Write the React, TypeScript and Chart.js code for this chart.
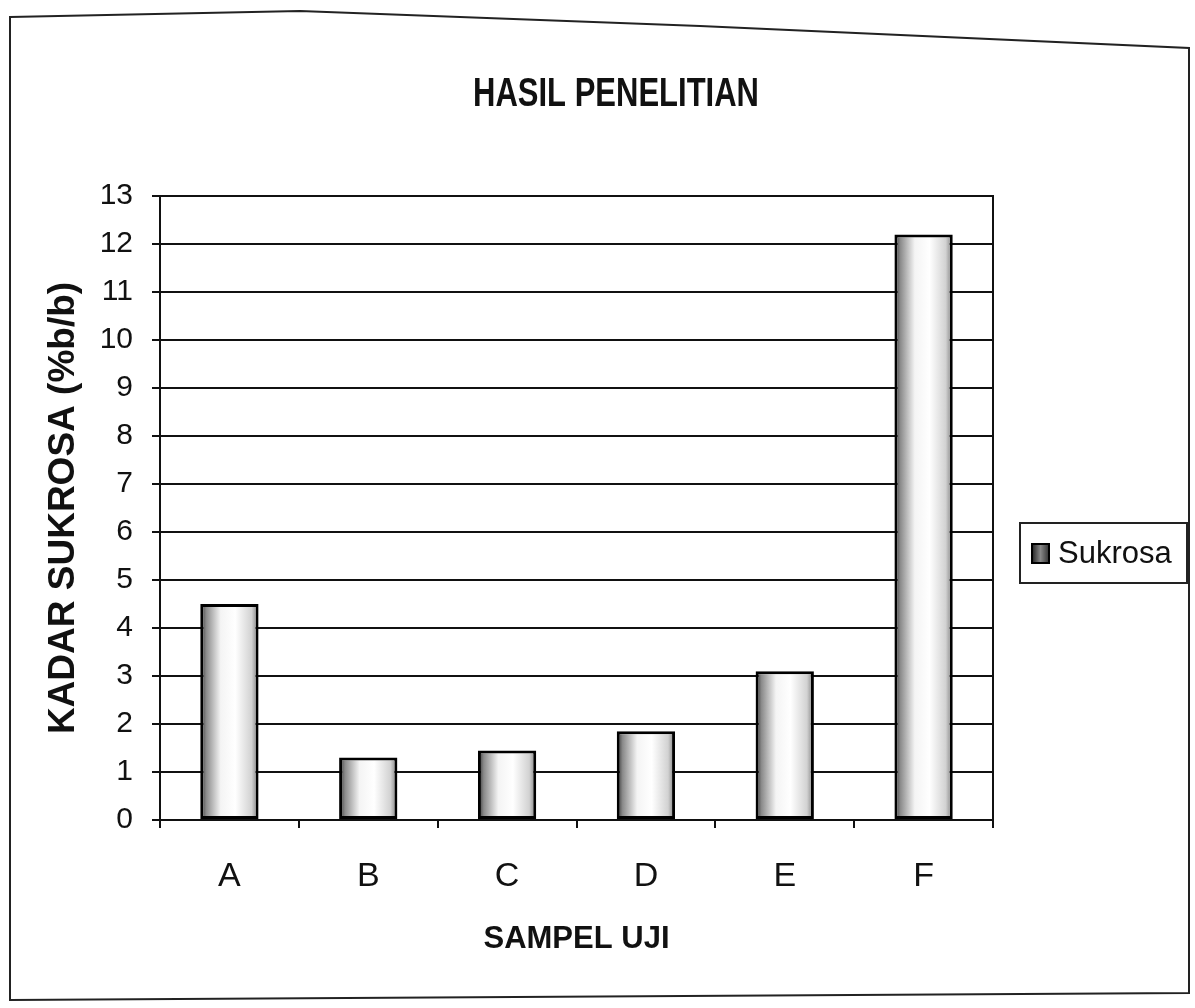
import React, { useEffect, useRef } from "react";
import { Chart, registerables } from "chart.js";

Chart.register(...registerables);

const chartTitle = "HASIL PENELITIAN";
const xAxisTitle = "SAMPEL UJI";
const yAxisTitle = "KADAR SUKROSA (%b/b)";
const seriesName = "Sukrosa";
const categories = ["A", "B", "C", "D", "E", "F"];
const sukrosaValues = [4.5, 1.3, 1.45, 1.85, 3.1, 12.2];
const yMin = 0;
const yMax = 13;
const yStep = 1;

const BAR_PCT = 0.42;
const SANS = "'Liberation Sans', Arial, sans-serif";

function barGradient(ctx: any) {
  const chart = ctx.chart;
  const area = chart.chartArea;
  const xs = chart.scales && chart.scales.x;
  if (!area || !xs) return "#bbbbbb";
  const cx = xs.getPixelForValue(ctx.dataIndex);
  const w = ((area.right - area.left) / categories.length) * BAR_PCT;
  const g = chart.ctx.createLinearGradient(cx - w / 2, 0, cx + w / 2, 0);
  g.addColorStop(0, "#2e2e2e");
  g.addColorStop(0.1, "#8a8a8a");
  g.addColorStop(0.35, "#f4f4f4");
  g.addColorStop(0.6, "#ffffff");
  g.addColorStop(0.88, "#d2d2d2");
  g.addColorStop(1, "#7a7a7a");
  return g;
}

const framePlugin = {
  id: "framePlugin",
  beforeDraw(chart: any) {
    const c = chart.ctx;
    c.save();
    c.fillStyle = "#ffffff";
    c.fillRect(0, 0, chart.width, chart.height);
    c.strokeStyle = "#222";
    c.lineWidth = 2;
    c.beginPath();
    c.moveTo(10, 17);
    c.lineTo(300, 11);
    c.lineTo(700, 26);
    c.lineTo(1189, 48);
    c.lineTo(1189, 993);
    c.lineTo(10, 1000);
    c.closePath();
    c.stroke();
    c.restore();
  },
  beforeDatasetsDraw(chart: any) {
    const { left, right, top, bottom } = chart.chartArea;
    const c = chart.ctx;
    c.save();
    c.strokeStyle = "#111";
    c.lineWidth = 2;
    c.strokeRect(left, top, right - left, bottom - top);
    c.restore();
  },
  afterDraw(chart: any) {
    const c = chart.ctx;
    // chart title (slightly tall, condensed look like the scan)
    c.save();
    c.translate(616, 95);
    c.scale(1, 1.3);
    c.fillStyle = "#111";
    c.font = `bold 31px ${SANS}`;
    c.textAlign = "center";
    c.textBaseline = "middle";
    c.fillText(chartTitle, 0, 0);
    c.restore();

    // legend
    const bx = 1020, by = 523, bw = 167, bh = 60;
    c.save();
    c.strokeStyle = "#222";
    c.lineWidth = 2;
    c.strokeRect(bx, by, bw, bh);
    const ix = 1032, iy = 544, iw = 17, ih = 19;
    const g = c.createLinearGradient(ix, 0, ix + iw, 0);
    g.addColorStop(0, "#222");
    g.addColorStop(0.5, "#888");
    g.addColorStop(1, "#333");
    c.fillStyle = g;
    c.fillRect(ix, iy, iw, ih);
    c.strokeStyle = "#000";
    c.lineWidth = 2;
    c.strokeRect(ix, iy, iw, ih);
    c.fillStyle = "#111";
    c.font = `31px ${SANS}`;
    c.textBaseline = "middle";
    c.textAlign = "left";
    c.fillText(seriesName, 1058, by + bh / 2 + 1);
    c.restore();
  },
};

export default function App() {
  const ref = useRef<HTMLCanvasElement | null>(null);

  useEffect(() => {
    if (!ref.current) return;
    const chart = new Chart(ref.current, {
      type: "bar",
      data: {
        labels: categories,
        datasets: [
          {
            label: seriesName,
            data: sukrosaValues,
            backgroundColor: barGradient as any,
            borderColor: "#000",
            borderWidth: 3,
            borderSkipped: false,
            categoryPercentage: 1,
            barPercentage: BAR_PCT,
          },
        ],
      },
      options: {
        animation: false,
        responsive: false,
        maintainAspectRatio: false,
        layout: { padding: { left: 20, right: 202, top: 196, bottom: 20 } },
        plugins: {
          legend: { display: false },
          tooltip: { enabled: false },
          title: { display: false },
        },
        scales: {
          x: {
            afterFit: (s: any) => {
              s.height = 168;
            },
            grid: {
              display: true,
              offset: true,
              drawOnChartArea: false,
              drawTicks: true,
              tickLength: 8,
              color: "#111",
              lineWidth: 2,
            },
            border: { display: true, color: "#111", width: 2 },
            ticks: {
              color: "#111",
              padding: 28,
              font: { family: SANS, size: 34 },
            },
            title: {
              display: true,
              text: xAxisTitle,
              color: "#111",
              font: { family: SANS, size: 31, weight: "bold" },
              padding: { top: 0, bottom: 30 },
            },
          },
          y: {
            min: yMin,
            max: yMax,
            afterFit: (s: any) => {
              s.width = 140;
            },
            grid: {
              display: true,
              drawOnChartArea: true,
              drawTicks: true,
              tickLength: 8,
              color: "#111",
              lineWidth: 2,
            },
            border: { display: true, color: "#111", width: 2 },
            ticks: {
              stepSize: yStep,
              color: "#111",
              padding: 19,
              font: { family: SANS, size: 30 },
            },
            title: {
              display: true,
              text: yAxisTitle,
              color: "#111",
              font: { family: SANS, size: 37, weight: "bold" },
              padding: { top: 22, bottom: 0 },
            },
          },
        },
      },
      plugins: [framePlugin],
    });
    return () => chart.destroy();
  }, []);

  return (
    <div style={{ position: "absolute", left: 0, top: 0, width: 1195, height: 1008 }}>
      <canvas ref={ref} width={1195} height={1008} style={{ display: "block" }} />
    </div>
  );
}
